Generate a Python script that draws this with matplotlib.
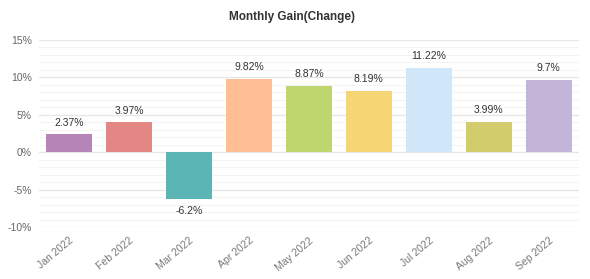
import matplotlib
matplotlib.use("Agg")
import matplotlib.pyplot as plt
from matplotlib.ticker import MultipleLocator, FuncFormatter

plt.rcParams["font.family"] = ["Liberation Sans", "DejaVu Sans"]

months = ["Jan 2022", "Feb 2022", "Mar 2022", "Apr 2022", "May 2022",
          "Jun 2022", "Jul 2022", "Aug 2022", "Sep 2022"]
gains = [2.37, 3.97, -6.2, 9.82, 8.87, 8.19, 11.22, 3.99, 9.7]
labels = ["2.37%", "3.97%", "-6.2%", "9.82%", "8.87%", "8.19%", "11.22%", "3.99%", "9.7%"]
colors = ["#b784b7", "#e38785", "#5bb5b5", "#ffbe94", "#bed66d",
          "#f6d574", "#d0e6f9", "#d3cc6c", "#c3b5d8"]

fig = plt.figure(figsize=(5.9, 2.79), dpi=100)
ax = fig.add_axes([0.066, 0.186, 0.915, 0.671])

x = list(range(len(months)))
ax.bar(x, gains, width=0.77, color=colors, zorder=3)
ax.set_xlim(-0.5, len(months) - 0.5)
ax.set_ylim(-10, 15)

ax.yaxis.set_major_locator(MultipleLocator(5))
ax.yaxis.set_minor_locator(MultipleLocator(1))
ax.yaxis.set_major_formatter(FuncFormatter(lambda v, p: f"{int(v)}%"))
ax.grid(axis="y", which="major", color="#e6e6e6", linewidth=0.9, zorder=0)
ax.grid(axis="y", which="minor", color="#f3f3f3", linewidth=0.7, zorder=0)
ax.tick_params(axis="y", which="both", length=0, labelsize=7.5, labelcolor="#666666", pad=5)
ax.tick_params(axis="x", length=0, labelsize=7.5, labelcolor="#777777", pad=6)
ax.set_xticks(x)
ax.set_xticklabels(months, rotation=40, ha="right", rotation_mode="anchor")
for s in ax.spines.values():
    s.set_visible(False)

for xi, g, lab in zip(x, gains, labels):
    if g >= 0:
        ax.annotate(lab, (xi, g), xytext=(0, 5), textcoords="offset points",
                    ha="center", va="bottom", fontsize=7.5, color="#333333")
    else:
        ax.annotate(lab, (xi, g), xytext=(0, -5), textcoords="offset points",
                    ha="center", va="top", fontsize=7.5, color="#333333")

fig.text(0.495, 0.94, "Monthly Gain(Change)", ha="center", va="center",
         fontsize=8.5, fontweight="bold", color="#333333")

fig.savefig("out.png", dpi=100, facecolor="white")
